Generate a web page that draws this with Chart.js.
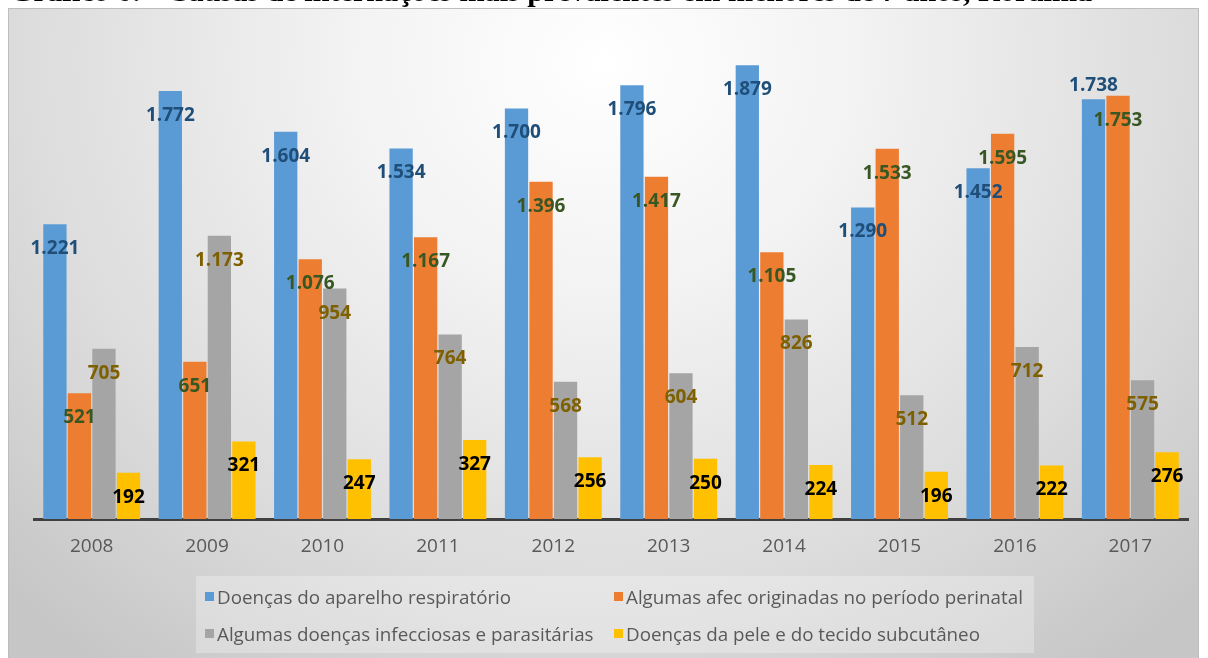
<!DOCTYPE html>
<html>
<head>
<meta charset="utf-8">
<script src="https://cdn.jsdelivr.net/npm/chart.js@4.4.1/dist/chart.umd.min.js"></script>
<style>
  html, body { margin: 0; padding: 0; background: #fff; }
  body { width: 1208px; height: 658px; position: relative; overflow: hidden; }
  #frame {
    position: absolute; left: 8px; top: 8px; width: 1191px; height: 660px;
    border: 1px solid #bdbdbd; box-sizing: border-box;
    background: radial-gradient(ellipse 70% 115% at 50% 8%, #ffffff 0%, #f3f3f3 30%, #dcdcdc 70%, #c6c6c6 100%);
  }
  #title {
    position: absolute; left: 10px; top: -24px; white-space: nowrap;
    font: bold 30.2px "Liberation Serif", "Times New Roman", serif; line-height: 30px; color: #000;
    z-index: 3;
  }
  canvas { position: absolute; left: 0; top: 0; z-index: 1; }
  #legend {
    position: absolute; left: 196px; top: 576px; width: 838px; height: 77px;
    background: rgba(255, 255, 255, 0.28); z-index: 2;
    display: grid; grid-template-columns: 409px auto; grid-auto-rows: 37px;
    padding: 2px 0 0 9px; box-sizing: border-box;
    font: 18.8px "Open Sans", sans-serif; color: #595959;
  }
  #legend .item { display: flex; align-items: center; white-space: nowrap; }
  #legend .box { width: 9px; height: 9px; margin-right: 3px; flex: none; }
</style>
</head>
<body>
<div id="frame"></div>
<div id="title">Gráfico 6: - Causas de internações mais prevalentes em menores de 7 anos, Roraima</div>
<canvas id="chart" width="1208" height="658"></canvas>
<div id="legend"></div>
<script>
const years = ["2008", "2009", "2010", "2011", "2012", "2013", "2014", "2015", "2016", "2017"];
const seriesNames = [
  "Doenças do aparelho respiratório",
  "Algumas afec originadas no período perinatal",
  "Algumas doenças infecciosas e parasitárias",
  "Doenças da pele e do tecido subcutâneo",
];
const respiratorio = [1221, 1772, 1604, 1534, 1700, 1796, 1879, 1290, 1452, 1738];
const perinatal = [521, 651, 1076, 1167, 1396, 1417, 1105, 1533, 1595, 1753];
const infecciosas = [705, 1173, 954, 764, 568, 604, 826, 512, 712, 575];
const pele = [192, 321, 247, 327, 256, 250, 224, 196, 222, 276];

const barColors = ["#5B9BD5", "#ED7D31", "#A5A5A5", "#FFC000"];
const labelColors = ["#1F4E79", "#385723", "#7F6000", "#000000"];

// 2017 respiratory label sits above its bar in the original
const labelsAbove = [[0, 9]];

function fmt(v) {
  return v >= 1000 ? Math.floor(v / 1000) + "." + String(v % 1000).padStart(3, "0") : String(v);
}

const valueLabels = {
  id: "valueLabels",
  afterDatasetsDraw(chart) {
    const ctx = chart.ctx;
    ctx.save();
    ctx.font = "bold 19px 'Open Sans', sans-serif";
    ctx.textAlign = "center";
    ctx.textBaseline = "middle";
    chart.data.datasets.forEach((ds, di) => {
      chart.getDatasetMeta(di).data.forEach((bar, i) => {
        const above = labelsAbove.some(p => p[0] === di && p[1] === i);
        ctx.fillStyle = labelColors[di];
        ctx.fillText(fmt(ds.data[i]), bar.x, above ? bar.y - 14 : bar.y + 24.5);
      });
    });
    ctx.restore();
  }
};

const allSeries = [respiratorio, perinatal, infecciosas, pele];

new Chart(document.getElementById("chart"), {
  type: "bar",
  data: {
    labels: years,
    datasets: allSeries.map((d, i) => ({
      label: seriesNames[i],
      data: d,
      backgroundColor: barColors[i],
      borderWidth: 0,
      barPercentage: 0.95,
      categoryPercentage: 0.85,
    })),
  },
  options: {
    responsive: false,
    animation: false,
    layout: { padding: { left: 34, right: 20, top: 36, bottom: 0 } },
    plugins: {
      legend: { display: false },
      tooltip: { enabled: false },
    },
    scales: {
      x: {
        grid: { display: false, drawTicks: false },
        border: { display: true, color: "#404040", width: 3 },
        ticks: { color: "#595959", font: { family: "Open Sans", size: 19 }, padding: 16 },
        afterFit(scale) { scale.height = 139; },
      },
      y: {
        display: false,
        min: 0,
        max: 2000,
      },
    },
  },
  plugins: [valueLabels],
});

const legend = document.getElementById("legend");
seriesNames.forEach((name, i) => {
  const item = document.createElement("div");
  item.className = "item";
  item.innerHTML = '<span class="box" style="background:' + barColors[i] + '"></span><span>' + name + "</span>";
  legend.appendChild(item);
});
</script>
</body>
</html>
